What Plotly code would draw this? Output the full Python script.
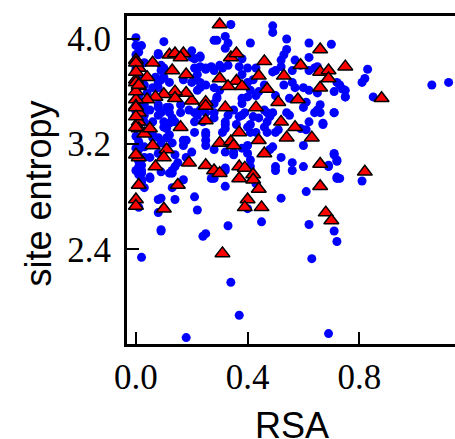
import plotly.graph_objects as go

# ---- data (RSA, site entropy) ----
blue_rsa = [
    0.34, 0.49, 0.49, 0.00, 0.02, 0.10, 0.29, 0.32, 0.33, 0.41, 0.54, 0.62, 0.70, 0.54, 0.53, 0.52, 0.62, 0.57,
    0.08, 0.20, 0.23, 0.21, 0.23, 0.25, 0.27, 0.30, 0.33, 0.37, 0.38, 0.40, 0.43, 0.49, 0.52, 0.56, 0.62, 0.64,
    0.72, 0.74, 0.75, 0.83, 0.82, 0.81, 0.85, 1.06, 1.12, 0.60, 0.57, 0.53, 0.42, 0.41, 0.44, 0.40, 0.38, 0.30,
    0.29, 0.28, 0.23, 0.22, 0.21, 0.17, 0.10, 0.09, 0.08, 0.06, 0.04, 0.03, 0.02, 0.05, 0.08, 0.09, 0.11, 0.12,
    0.16, 0.19, 0.22, 0.23, 0.25, 0.33, 0.35, 0.38, 0.42, 0.46, 0.49, 0.46, 0.48, 0.54, 0.60, 0.65, 0.66, 0.71,
    0.67, 0.61, 0.59, 0.50, 0.47, 0.43, 0.40, 0.36, 0.32, 0.25, 0.25, 0.21, 0.18, 0.17, 0.13, 0.11, 0.10, 0.12,
    0.06, 0.03, 0.03, 0.05, 0.01, 0.02, 0.05, 0.13, 0.09, 0.14, 0.18, 0.20, 0.28, 0.32, 0.35, 0.40, 0.41, 0.52,
    0.56, 0.60, 0.60, 0.49, 0.50, 0.56, 0.69, 0.71, 0.72, 0.72, 0.32, 0.41,
    0.02, 0.02, 0.05, 0.13, 0.08, 0.14, 0.01, 0.08, 0.09, 0.21, 0.22, 0.24, 0.33, 0.32, 0.28, 0.52, 0.61, 0.50,
    0.62, 0.45, 0.40, 0.72, 0.81, 0.71, 0.72, 0.63, 0.02, 0.34, 0.37, 0.18, 0.69,
    0.08, 0.00, 0.03, 0.09, 0.09, 0.07, 0.10, 0.03, 0.08, 0.12, 0.20, 0.22, 0.21, 0.23, 0.20, 0.25, 0.28, 0.31,
    0.28, 0.32, 0.25, 0.23, 0.28, 0.29, 0.03, 0.08, 0.12, 0.16, 0.21, 0.28, 0.03, 0.08, 0.13, 0.28, 0.32, 0.21,
    0.24, 0.14, 0.10, 0.06, 0.03,
    0.00, 0.01, 0.02, 0.02, 0.03, 0.09, 0.09, 0.25, 0.27, 0.12, 0.17, 0.15, 0.14, 0.13, 0.25, 0.25, 0.17, 0.12,
    0.08, 0.06, 0.09, 0.08, 0.11, 0.32, 0.32, 0.31, 0.35,
    0.41, 0.51, 0.71, 0.72, 0.69, 0.73, 0.43, 0.38, 0.40, 0.48,
    0.65, 0.59, 0.50, 0.38, 0.40, 0.46, 0.56, 0.62, 0.65, 0.71, 0.73, 0.50, 0.43, 0.38, 0.55, 0.61, 0.66, 0.39,
    0.47, 0.64, 0.71, 0.37, 0.44, 0.55, 0.67, 0.41, 0.47, 0.62,
    0.75, 0.75,
    0.00, 0.01, 0.00, 0.01, 0.00, 0.01, 0.00, 0.01, 0.00, 0.01, 0.00, 0.01, 0.00, 0.01, 0.00, 0.01,
]
blue_entropy = [
    4.11, 4.10, 4.05, 4.01, 3.95, 3.98, 3.99, 4.02, 3.97, 3.97, 4.00, 3.97, 3.96, 3.92, 3.88, 3.84, 3.86, 3.84,
    3.89, 3.91, 3.87, 3.85, 3.79, 3.77, 3.79, 3.80, 3.80, 3.79, 3.85, 3.78, 3.78, 3.75, 3.79, 3.76, 3.76, 3.78,
    3.67, 3.62, 3.56, 3.77, 3.70, 3.67, 3.56, 3.65, 3.67, 3.63, 3.63, 3.65, 3.69, 3.61, 3.60, 3.56, 3.51, 3.61,
    3.55, 3.51, 3.67, 3.61, 3.70, 3.69, 3.78, 3.69, 3.63, 3.63, 3.59, 3.46, 3.41, 3.46, 3.48, 3.44, 3.48, 3.44,
    3.44, 3.46, 3.42, 3.46, 3.44, 3.42, 3.46, 3.42, 3.41, 3.46, 3.44, 3.33, 3.41, 3.44, 3.48, 3.46, 3.44, 3.44,
    3.35, 3.31, 3.32, 3.29, 3.29, 3.29, 3.33, 3.35, 3.35, 3.29, 3.23, 3.29, 3.23, 3.19, 3.21, 3.25, 3.33, 3.36,
    3.25, 3.18, 3.10, 3.10, 3.03, 2.98, 2.95, 2.98, 2.99, 3.03, 3.10, 3.14, 3.16, 3.14, 3.12, 3.13, 3.08, 3.10,
    3.06, 3.03, 3.19, 3.18, 3.03, 3.00, 3.04, 3.13, 3.08, 2.95, 3.00, 3.03,
    3.00, 2.91, 2.94, 2.87, 2.78, 2.78, 2.72, 2.68, 2.55, 2.80, 2.70, 2.50, 2.58, 2.88, 2.94, 2.79, 2.84, 3.00,
    2.59, 2.61, 2.71, 2.94, 2.92, 2.54, 2.46, 2.33, 2.34, 2.15, 1.90, 1.73, 1.76,
    3.88, 3.83, 3.82, 3.80, 3.76, 3.71, 3.71, 3.65, 3.67, 3.67, 3.67, 3.73, 3.78, 3.86, 3.86, 3.78, 3.76, 3.78,
    3.99, 3.93, 3.65, 3.63, 3.63, 3.56, 3.50, 3.50, 3.48, 3.50, 3.44, 3.44, 3.42, 3.42, 3.40, 3.40, 3.37, 3.37,
    3.37, 3.37, 3.37, 3.37, 3.37,
    3.10, 3.16, 3.04, 2.93, 2.87, 2.79, 2.54, 2.52, 2.94, 2.98, 2.93, 3.06, 3.12, 3.00, 3.27, 3.19, 3.23, 3.27,
    3.25, 3.27, 3.21, 3.13, 3.32, 3.02, 3.32, 3.29, 3.14,
    3.29, 3.31, 3.12, 3.07, 3.03, 2.94, 2.90, 3.17, 3.19, 3.16,
    3.79, 3.80, 3.76, 3.73, 3.67, 3.65, 3.67, 3.61, 3.59, 3.60, 3.65, 3.57, 3.57, 3.55, 3.55, 3.52, 3.50, 3.44,
    3.44, 3.44, 3.44, 3.41, 3.40, 3.42, 3.36, 3.35, 3.37, 3.37,
    3.61, 3.56,
    3.95, 3.90, 3.78, 3.72, 3.62, 3.57, 3.45, 3.35, 3.26, 3.22, 3.17, 3.07, 3.00, 2.97, 3.88, 3.52,
]

red_rsa = [
    0.30, 0.00, 0.01, 0.06, 0.12, 0.14, 0.17, 0.16, 0.13, 0.18, 0.04, 0.01, 0.00, 0.34, 0.36, 0.30, 0.36, 0.33,
    0.38, 0.46, 0.44, 0.53, 0.59, 0.66, 0.66, 0.69, 0.69, 0.75, 0.66, 0.88, 0.47, 0.51, 0.58, 0.43, 0.32, 0.25,
    0.25, 0.20, 0.18, 0.14, 0.14, 0.10, 0.07, 0.04, 0.00, 0.00, 0.01, 0.01, 0.01, 0.00, 0.03, 0.05, 0.16, 0.25,
    0.37, 0.30, 0.34, 0.35, 0.44, 0.54, 0.52, 0.57, 0.63, 0.06, 0.11, 0.10, 0.01, 0.07, 0.19, 0.25, 0.28, 0.30,
    0.37, 0.39, 0.42, 0.46, 0.66, 0.82, 0.01, 0.00, 0.00, 0.15, 0.10, 0.37, 0.42, 0.44, 0.40, 0.39, 0.45, 0.66,
    0.68, 0.70, 0.31, 0.00, 0.00, 0.00, 0.00, 0.00, 0.00, 0.00, 0.01,
]
red_entropy = [
    4.11, 3.84, 3.78, 3.82, 3.88, 3.89, 3.89, 3.86, 3.76, 3.73, 3.71, 3.64, 3.69, 3.86, 3.89, 3.70, 3.68, 3.64,
    3.64, 3.83, 3.72, 3.72, 3.80, 3.92, 3.75, 3.76, 3.70, 3.79, 3.63, 3.55, 3.62, 3.52, 3.54, 3.48, 3.48, 3.52,
    3.49, 3.53, 3.59, 3.60, 3.55, 3.58, 3.56, 3.54, 3.54, 3.49, 3.44, 3.37, 3.32, 3.33, 3.28, 3.32, 3.33, 3.38,
    3.29, 3.21, 3.22, 3.19, 3.23, 3.25, 3.37, 3.33, 3.25, 3.19, 3.16, 3.10, 3.10, 3.03, 3.06, 3.04, 3.00, 2.98,
    3.03, 3.02, 2.97, 3.13, 3.05, 2.99, 2.89, 2.78, 2.73, 2.89, 2.71, 2.94, 2.93, 2.86, 2.78, 2.72, 2.72, 2.88,
    2.68, 2.62, 2.37, 3.82, 3.75, 3.67, 3.60, 3.48, 3.41, 3.12, 3.65,
]

x_ticks = [0.0, 0.4, 0.8]
x_tick_labels = ["0.0", "0.4", "0.8"]
y_ticks = [2.4, 3.2, 4.0]
y_tick_labels = ["2.4", "3.2", "4.0"]

fig = go.Figure()
fig.add_trace(go.Scatter(
    x=blue_rsa, y=blue_entropy, mode="markers",
    marker=dict(symbol="circle", size=9, color="#0000ff", line=dict(width=0)),
    showlegend=False, hoverinfo="skip"))
fig.add_trace(go.Scatter(
    x=red_rsa, y=red_entropy, mode="markers",
    marker=dict(symbol="triangle-up", size=13, color="#ff0000", line=dict(width=1.5, color="black")),
    showlegend=False, hoverinfo="skip"))

tick_font = dict(family="Liberation Serif, DejaVu Serif, serif", size=35, color="black")
fig.update_layout(
    width=455, height=439,
    margin=dict(l=127, r=0, t=16, b=95),
    paper_bgcolor="white", plot_bgcolor="white",
    xaxis=dict(range=[-0.032, 1.143], tickvals=x_ticks, ticktext=x_tick_labels,
               showgrid=False, zeroline=False, showline=True, linecolor="black", linewidth=3,
               mirror=True, ticks="inside", ticklen=12, tickwidth=2, tickcolor="black",
               tickfont=tick_font),
    yaxis=dict(range=[1.681, 4.175], tickvals=y_ticks, ticktext=y_tick_labels,
               showgrid=False, zeroline=False, showline=True, linecolor="black", linewidth=3,
               mirror=False, ticks="inside", ticklen=12, tickwidth=2, tickcolor="black",
               tickfont=tick_font, ticklabelstandoff=6),
    annotations=[
        dict(text="RSA", xref="paper", yref="paper", x=0.503, y=-0.247, showarrow=False,
             xanchor="center", yanchor="middle",
             font=dict(family="Liberation Sans, Arial, sans-serif", size=36, color="black")),
        dict(text="site entropy", xref="paper", yref="paper", x=-0.270, y=0.460, showarrow=False,
             textangle=-90, xanchor="center", yanchor="middle",
             font=dict(family="Liberation Sans, Arial, sans-serif", size=36, color="black")),
    ],
)

fig.write_html("out.html", config={"displayModeBar": False},
               post_script="document.body.style.margin='0';")
